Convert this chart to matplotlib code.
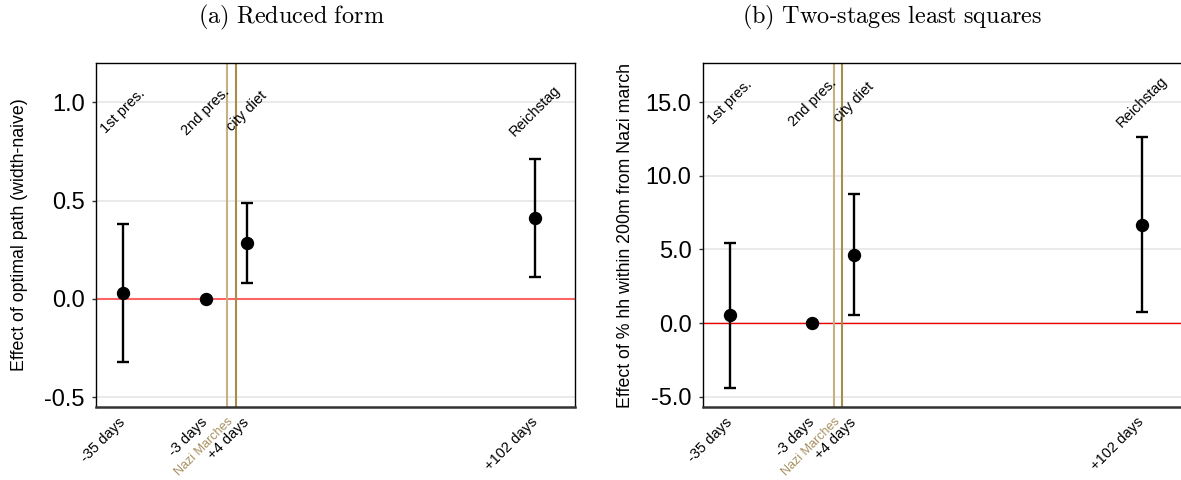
import matplotlib
matplotlib.use("Agg")
import matplotlib.pyplot as plt
import numpy as np

# ---- data ----
tick_labels = ["-35 days", "-3 days", "+4 days", "+102 days"]
events = ["1st pres.", "2nd pres.", "city diet", "Reichstag"]
slots = [0, 2, 3, 10]          # ordinal slot of each election on the x axis
march_slots = [2.52, 2.73]     # Nazi marches (between -3 and +4 days)

rf_est = [0.03, 0.0, 0.285, 0.41]
rf_lo = [-0.32, 0.0, 0.08, 0.11]
rf_hi = [0.38, 0.0, 0.49, 0.71]

tsls_est = [0.52, 0.0, 4.66, 6.68]
tsls_lo = [-4.38, 0.0, 0.56, 0.72]
tsls_hi = [5.43, 0.0, 8.74, 12.63]

W, H = 1181, 480
fig = plt.figure(figsize=(W / 100, H / 100), dpi=100)
plt.rcParams['font.family'] = ['Liberation Sans', 'DejaVu Sans']
plt.rcParams['mathtext.fontset'] = 'cm'

def px(x0, y0, x1, y1):
    return [x0 / W, 1 - y1 / H, (x1 - x0) / W, (y1 - y0) / H]

specs = [
    dict(rect=px(96, 63, 575, 407), est=rf_est, lo=rf_lo, hi=rf_hi,
         ylim=(-0.55, 1.2), yticks=[-0.5, 0.0, 0.5, 1.0], fmt="{:.1f}",
         ylabel="Effect of optimal path (width-naive)", ev_y=0.955,
         zero_color="#ff6464", zero_lw=1.5, ylab_x=19.5,
         title=r"$\mathrm{(a)\ Reduced\ form}$", title_x=291),
    dict(rect=px(702.7, 63, 1181.7, 407), est=tsls_est, lo=tsls_lo, hi=tsls_hi,
         ylim=(-5.7, 17.67), yticks=[-5.0, 0.0, 5.0, 10.0, 15.0], fmt="{:.1f}",
         ylabel="Effect of % hh within 200m from Nazi march", ev_y=15.0,
         zero_color="#f00000", zero_lw=1.0, ylab_x=625,
         title=r"$\mathrm{(b)\ Two}$-$\mathrm{stages\ least\ squares}$", title_x=892),
]

for s in specs:
    ax = fig.add_axes(s['rect'])
    ax.set_xlim(-0.663, 10.97)
    ax.set_ylim(*s['ylim'])
    for yt in s['yticks']:
        ax.axhline(yt, color="#e6e6e6", lw=1.2, zorder=0)
    ax.axhline(0, color=s['zero_color'], lw=s['zero_lw'], zorder=1)
    ax.axvline(march_slots[0], color="#c4b184", lw=1.5, zorder=1)
    ax.axvline(march_slots[1], color="#a68d4c", lw=1.5, zorder=1)
    est = np.array(s['est'])
    err = np.vstack([est - np.array(s['lo']), np.array(s['hi']) - est])
    ax.errorbar(slots, est, yerr=err, fmt='o', color='black', ms=8.6,
                elinewidth=1.7, capsize=4.2, capthick=1.7, zorder=3)
    for xs, ev in zip(slots, events):
        ax.text(xs, s['ev_y'], ev, rotation=45, ha='center', va='center',
                fontsize=10.5, color='black')
    ax.set_yticks(s['yticks'])
    ax.set_yticklabels([s['fmt'].format(v) for v in s['yticks']], fontsize=17)
    ax.tick_params(axis='y', length=3, width=1, color='#333333', pad=5)
    ax.set_xticks(slots)
    ax.set_xticklabels([])
    ax.tick_params(axis='x', length=0)
    for xs, lab in zip(slots, tick_labels):
        ax.annotate(lab, xy=(xs, 0), xycoords=('data', 'axes fraction'),
                    xytext=(0, -13), textcoords='offset pixels', rotation=45,
                    ha='right', va='center', rotation_mode='anchor', fontsize=10.5)
    ax.annotate("Nazi Marches", xy=(np.mean(march_slots), 0),
                xycoords=('data', 'axes fraction'), xytext=(0, -13),
                textcoords='offset pixels', rotation=45, ha='right', va='center',
                rotation_mode='anchor', fontsize=9, color="#a89060")
    for sp in ['top', 'right', 'left']:
        ax.spines[sp].set_color('black')
        ax.spines[sp].set_linewidth(1.0)
    ax.spines['bottom'].set_color('#333333')
    ax.spines['bottom'].set_linewidth(1.8)
    fig.text(s['ylab_x'] / W, 1 - 235 / H, s['ylabel'], rotation=90,
             ha='center', va='center', fontsize=12.8)
    fig.text(s['title_x'] / W, 1 - 17 / H, s['title'], ha='center', va='center',
             fontsize=17.5)

fig.savefig("out.png", dpi=100)
